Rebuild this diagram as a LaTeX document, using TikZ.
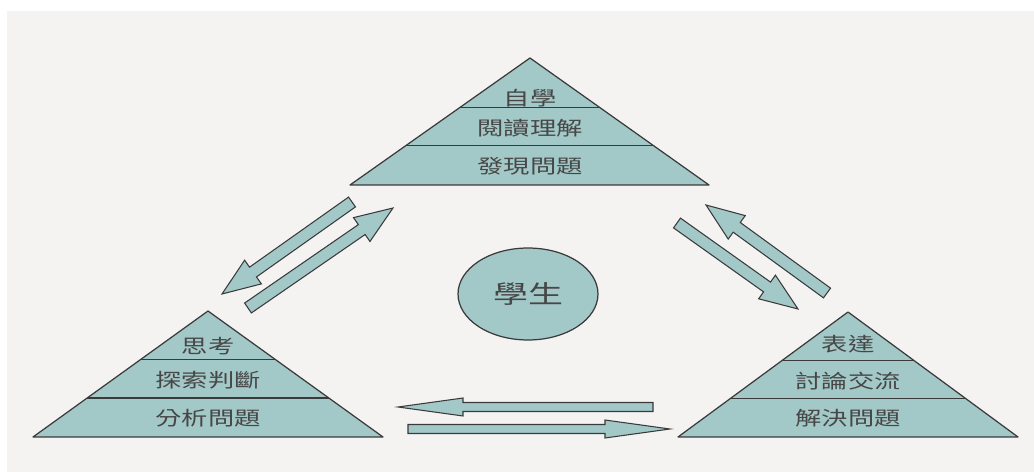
\documentclass[tikz,border=0pt]{standalone}
\usepackage{fontspec}
\newfontfamily\cjk{Noto Sans CJK TC}
\usetikzlibrary{calc,shapes.geometric}
\definecolor{tealfill}{HTML}{A3C8C8}
\definecolor{edgec}{HTML}{3A3A3A}
\definecolor{bgc}{HTML}{F4F3F1}
\newcommand\mypyr[1]{%
  \draw[pyr] (#1a) -- (#1l) -- (#1r) -- cycle;
  \draw[pyrline] ($(#1a)!0.387!(#1l)$) -- ($(#1a)!0.387!(#1r)$);
  \draw[pyrline] ($(#1a)!0.69!(#1l)$) -- ($(#1a)!0.69!(#1r)$);
}
\newcommand\blockarrow[5]{%
  \coordinate (bah) at ($(#2)!#5!(#1)$);
  \draw[blk] ($(#1)!#3!90:(#2)$) -- ($(bah)!#3!90:(#2)$) -- ($(bah)!#4!90:(#2)$) -- (#2)
    -- ($(bah)!#4!-90:(#2)$) -- ($(bah)!#3!-90:(#2)$) -- ($(#1)!#3!-90:(#2)$) -- cycle;
}
\newcommand\wtxt[1]{\scalebox{1.36}[1]{#1}}
\begin{document}
\begin{tikzpicture}[x=0.02cm,y=-0.02cm,
  pyr/.style={draw=edgec,fill=tealfill,line width=0.7pt,line join=round},
  pyrline/.style={draw=edgec,line width=0.7pt},
  blk/.style={draw=edgec,fill=tealfill,line width=0.6pt,line join=miter},
  lbl/.style={inner sep=0pt,font=\cjk\fontsize{11}{13}\selectfont,text=black!72},
  stulbl/.style={font=\cjk\fontsize{14.2}{16}\selectfont,text=black!72}]
\useasboundingbox (0,0) rectangle (1034,472);
\fill[bgc] (7,11) rectangle (1034,472);

% top pyramid
\coordinate (ta) at (530,58);
\coordinate (tl) at (350,185);
\coordinate (tr) at (709,185);
\mypyr{t}
\node[lbl] (t1) at (530,98) {\wtxt{自學}};
\node[lbl] (t2) at (530,128) {\wtxt{閱讀理解}};
\node[lbl] (t3) at (530,166) {\wtxt{發現問題}};

% left pyramid
\coordinate (la) at (208,311);
\coordinate (ll) at (33,437);
\coordinate (lr) at (383,437);
\mypyr{l}
\node[lbl] (l1) at (208,346) {\wtxt{思考}};
\node[lbl] (l2) at (208,380) {\wtxt{探索判斷}};
\node[lbl] (l3) at (208,418) {\wtxt{分析問題}};

% right pyramid
\coordinate (ra) at (848,312);
\coordinate (rl) at (678,437);
\coordinate (rr) at (1018,437);
\mypyr{r}
\node[lbl] (r1) at (848,344) {\wtxt{表達}};
\node[lbl] (r2) at (848,381) {\wtxt{討論交流}};
\node[lbl] (r3) at (848,418) {\wtxt{解決問題}};

% student
\node[ellipse,draw=edgec,fill=tealfill,line width=0.7pt,minimum width=2.8cm,minimum height=1.84cm,stulbl] (stu) at (528,294) {\scalebox{1.4}[1]{學生}};

% arrows
\coordinate (l1t) at (352,202);
\coordinate (l1h) at (222,294);
\coordinate (l2t) at (248,308);
\coordinate (l2h) at (393,208);
\coordinate (r1t) at (677,223);
\coordinate (r1h) at (798,309);
\coordinate (r2t) at (827,293);
\coordinate (r2h) at (706,205);
\coordinate (b1t) at (653,407);
\coordinate (b1h) at (398,407);
\coordinate (b2t) at (408,429);
\coordinate (b2h) at (670,429);
\blockarrow{l1t}{l1h}{0.12cm}{0.29cm}{0.76cm}
\blockarrow{l2t}{l2h}{0.12cm}{0.29cm}{0.76cm}
\blockarrow{r1t}{r1h}{0.12cm}{0.29cm}{0.76cm}
\blockarrow{r2t}{r2h}{0.12cm}{0.29cm}{0.76cm}
\blockarrow{b1t}{b1h}{0.09cm}{0.18cm}{1.3cm}
\blockarrow{b2t}{b2h}{0.09cm}{0.18cm}{1.3cm}
\end{tikzpicture}
\end{document}
